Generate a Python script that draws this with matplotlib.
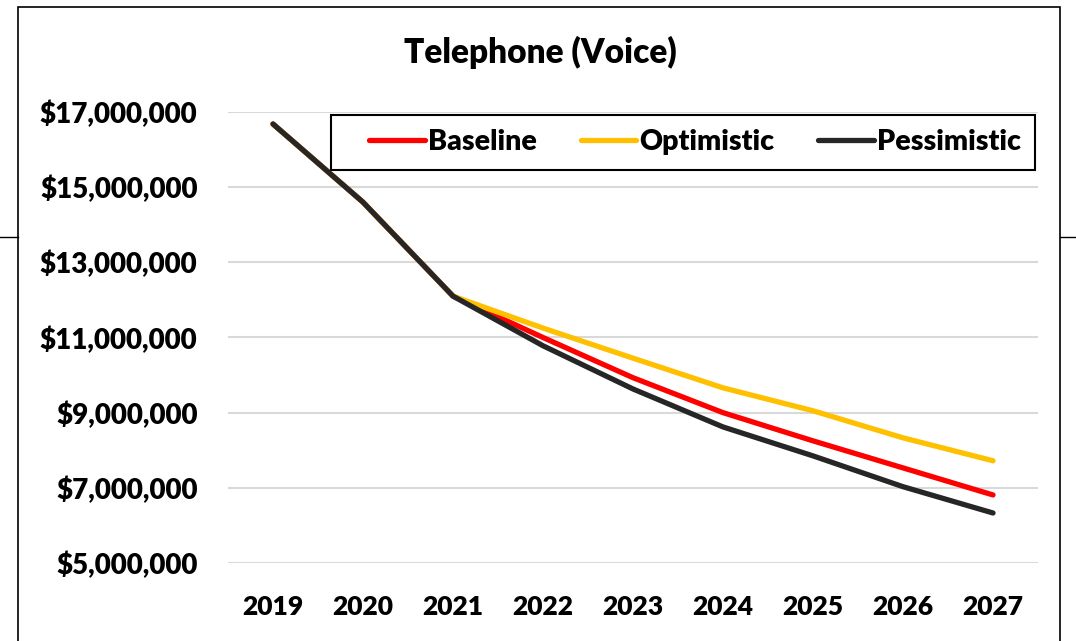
import matplotlib.pyplot as plt
from matplotlib.lines import Line2D
from matplotlib.patches import Rectangle
from matplotlib.legend_handler import HandlerLine2D
from matplotlib.ticker import FuncFormatter

years = ["2019", "2020", "2021", "2022", "2023", "2024", "2025", "2026", "2027"]
baseline = [16680000, 14600000, 12100000, 11000000, 9930000, 9000000, 8250000, 7530000, 6810000]
optimistic = [16680000, 14600000, 12100000, 11250000, 10450000, 9660000, 9050000, 8330000, 7720000]
pessimistic = [16680000, 14600000, 12100000, 10780000, 9630000, 8620000, 7850000, 7030000, 6330000]
y_ticks = [5000000, 7000000, 9000000, 11000000, 13000000, 15000000, 17000000]

plt.rcParams["font.family"] = ["Lato", "DejaVu Sans"]
plt.rcParams["font.weight"] = "heavy"

fig = plt.figure(figsize=(10.76, 6.41), dpi=100)
ax = fig.add_axes([0.2119, 0.1217, 0.7528, 0.7036])

x = list(range(len(years)))
series = [
    ("Baseline", baseline, "#FF0000"),
    ("Optimistic", optimistic, "#FFC000"),
    ("Pessimistic", pessimistic, "#262626"),
]
for name, vals, color in series:
    ax.plot(x, vals, color=color, lw=3.8, solid_capstyle="round",
            solid_joinstyle="round", label=name, zorder=3)

ax.set_xlim(-0.5, len(years) - 0.5)
ax.set_ylim(y_ticks[0], y_ticks[-1])
ax.set_xticks(x)
ax.set_xticklabels(years)
ax.set_yticks(y_ticks)
ax.yaxis.set_major_formatter(FuncFormatter(lambda v, p: f"${v:,.0f}"))
ax.tick_params(axis="both", length=0)
ax.tick_params(axis="x", pad=23, labelsize=19)
ax.tick_params(axis="y", pad=22, labelsize=20)
ax.grid(axis="y", color="#D9D9D9", lw=1.5, zorder=0)
for s in ax.spines.values():
    s.set_visible(False)

# title sits over the whole chart box, not just the plot area
fig.text(540 / 1076, 1 - 52 / 641, "Telephone (Voice)", ha="center", va="center",
         fontsize=24, fontweight="heavy")

handles = [Line2D([], [], color=c, lw=3.8, solid_capstyle="round") for _, _, c in series]
leg = ax.legend(handles, [n for n, _, _ in series], ncol=3, loc="upper right",
                bbox_to_anchor=(0.996, 0.993), borderaxespad=0, fancybox=False,
                framealpha=1, edgecolor="black", fontsize=20.5, handlelength=2.8,
                handletextpad=0.1, columnspacing=0.7, borderpad=0.5,
                handler_map={Line2D: HandlerLine2D(xpad=0.85)})
leg.get_frame().set_linewidth(1.5)

# outer chart border and the stray rule behind it
fig.add_artist(Rectangle((18 / 1076, -0.01), (1060 - 18) / 1076, 1 - 7 / 641 + 0.01,
                         transform=fig.transFigure, fill=False, ec="black", lw=1.2))
fig.add_artist(Line2D([0, 18 / 1076], [1 - 237 / 641] * 2, transform=fig.transFigure,
                      color="black", lw=1))
fig.add_artist(Line2D([1060 / 1076, 1], [1 - 237 / 641] * 2, transform=fig.transFigure,
                      color="black", lw=1))

fig.savefig("out.png", dpi=100)
